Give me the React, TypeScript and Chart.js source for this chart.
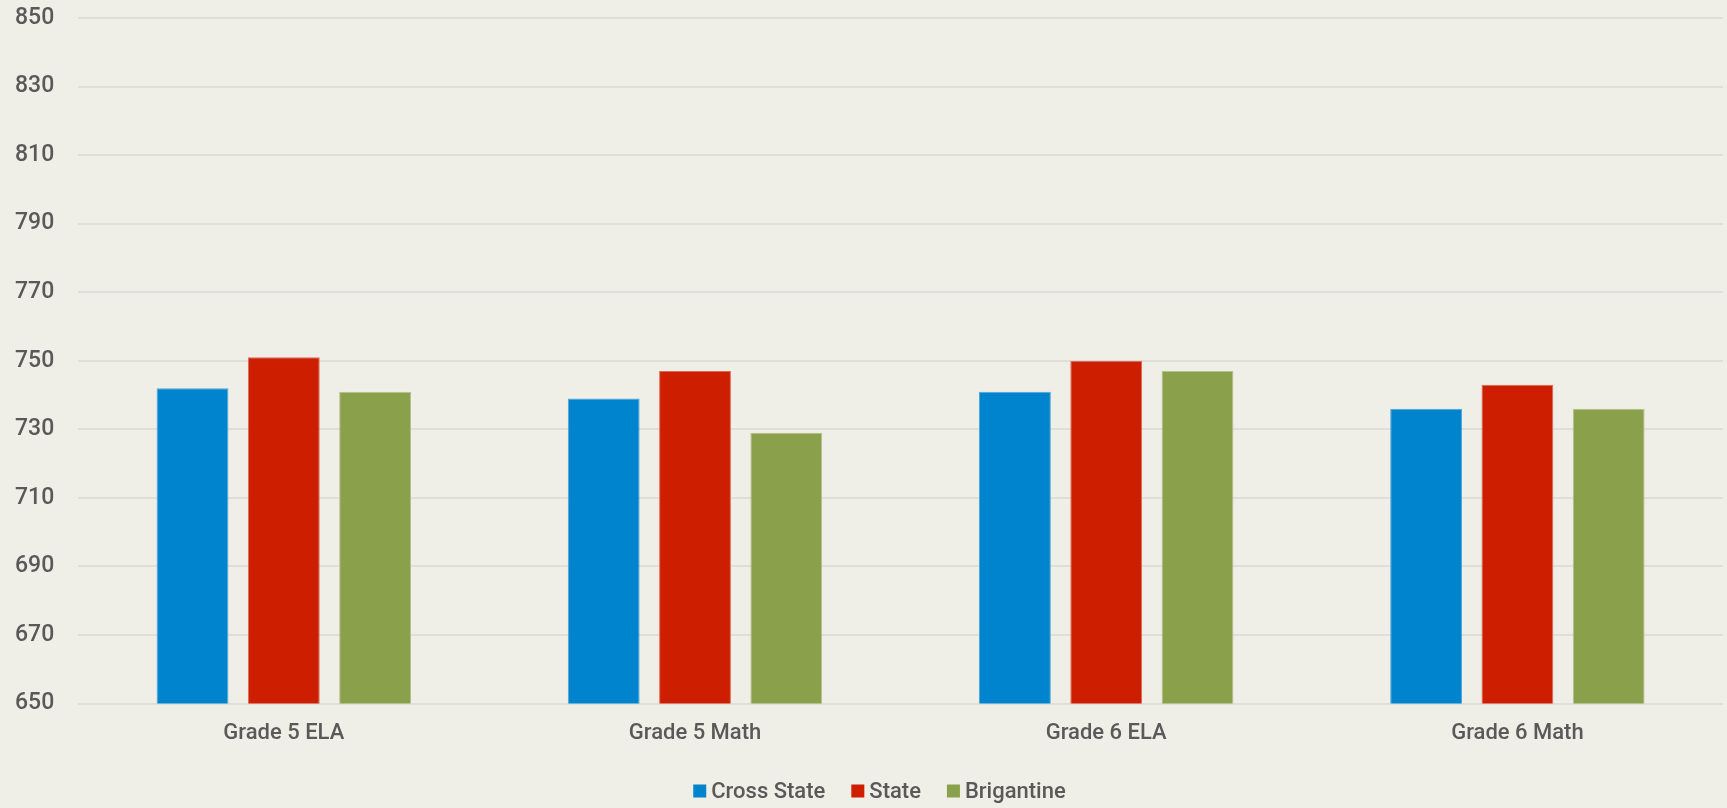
import React, { useEffect, useRef } from "react";
import { Chart, registerables } from "chart.js";

Chart.register(...registerables);

const categories = ["Grade 5 ELA", "Grade 5 Math", "Grade 6 ELA", "Grade 6 Math"];
const crossState = [742, 739, 741, 736];
const state = [751, 747, 750, 743];
const brigantine = [741, 729, 747, 736];
const yMin = 650;
const yMax = 850;
const yStep = 20;

const FONT = "Roboto, 'Liberation Sans', Arial, sans-serif";
const TEXT = "#595959";

const bottomLegend = {
  id: "bottomLegend",
  afterDraw(chart: any) {
    const ctx = chart.ctx as CanvasRenderingContext2D;
    const box = 13;
    const boxGap = 5;
    const itemGap = 26;
    ctx.save();
    ctx.font = `500 22px ${FONT}`;
    ctx.textBaseline = "middle";
    const items = chart.data.datasets.map((ds: any) => ({
      label: ds.label as string,
      color: ds.backgroundColor as string,
      w: ctx.measureText(ds.label).width,
    }));
    const total =
      items.reduce((s: number, it: any) => s + box + boxGap + it.w, 0) + itemGap * (items.length - 1);
    let x = chart.width / 2 + 16 - total / 2;
    const cy = chart.height - 16;
    for (const it of items) {
      ctx.fillStyle = it.color;
      ctx.fillRect(x, cy - box / 2 - 1, box, box);
      x += box + boxGap;
      ctx.fillStyle = TEXT;
      ctx.textAlign = "left";
      ctx.fillText(it.label, x, cy);
      x += it.w + itemGap;
    }
    ctx.restore();
  },
};

export default function App() {
  const ref = useRef<HTMLCanvasElement | null>(null);

  useEffect(() => {
    document.body.style.margin = "0";
    document.body.style.background = "#F0EFE7";
    const canvas = ref.current;
    if (!canvas) return;
    const chart = new Chart(canvas, {
      type: "bar",
      data: {
        labels: categories,
        datasets: [
          { label: "Cross State", data: crossState, backgroundColor: "#0084CD", borderColor: "#4FA6DA", borderWidth: 1 },
          { label: "State", data: state, backgroundColor: "#CD1E00", borderColor: "#DE6A55", borderWidth: 1 },
          { label: "Brigantine", data: brigantine, backgroundColor: "#8BA04B", borderColor: "#B3C28A", borderWidth: 1 },
        ],
      },
      options: {
        animation: false,
        responsive: false,
        maintainAspectRatio: false,
        layout: { padding: { left: -9, right: 4, top: 0, bottom: 44 } },
        datasets: { bar: { categoryPercentage: 0.666, barPercentage: 0.787 } },
        scales: {
          x: {
            grid: { display: false, drawTicks: false },
            border: { display: false },
            ticks: { color: TEXT, font: { family: FONT, size: 22, weight: 500 }, padding: 17 },
          },
          y: {
            min: yMin,
            max: yMax,
            grid: { color: "#DFDEDB", lineWidth: 2, drawTicks: false },
            border: { display: false },
            ticks: { stepSize: yStep, color: TEXT, font: { family: FONT, size: 23, weight: 500 }, padding: 24 },
            afterFit: (scale: any) => {
              scale.paddingTop = 18;
              scale.paddingBottom = 0;
            },
          },
        },
        plugins: {
          legend: { display: false },
          tooltip: { enabled: false },
        },
      },
      plugins: [bottomLegend],
    });
    return () => chart.destroy();
  }, []);

  return <canvas ref={ref} width={1727} height={808} style={{ display: "block" }} />;
}
